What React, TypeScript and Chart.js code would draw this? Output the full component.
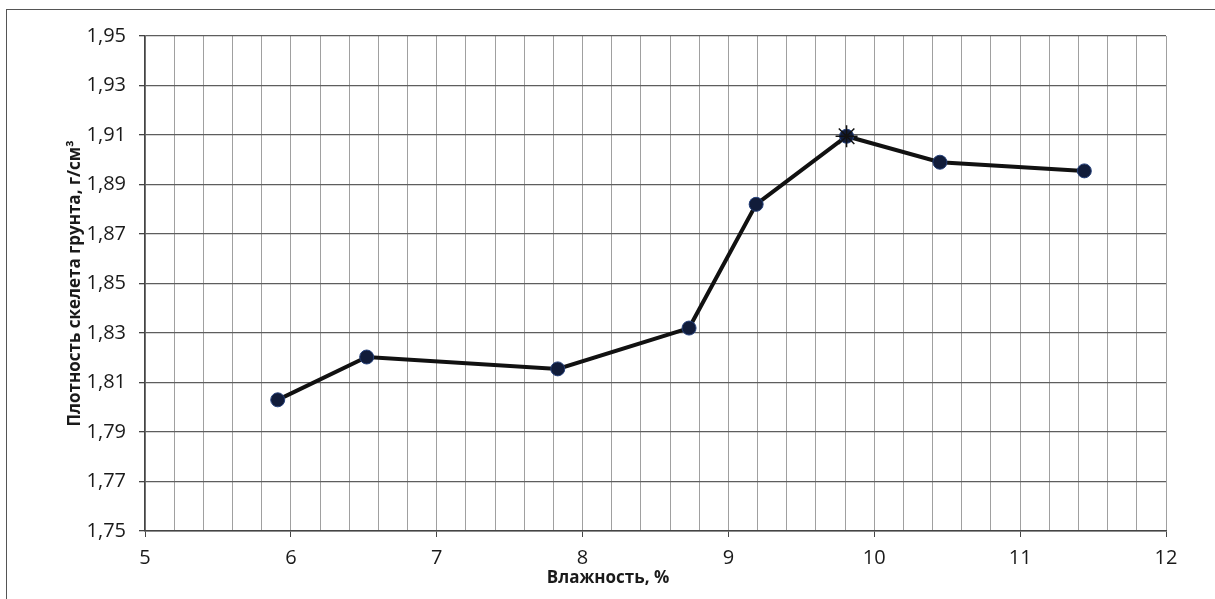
import React, { useEffect, useRef } from 'react';
import { Chart, registerables } from 'chart.js';

Chart.register(...registerables);

// Data
const moisture = [5.91, 6.52, 7.83, 8.73, 9.19, 9.81, 10.45, 11.44];
const density = [1.803, 1.8203, 1.8155, 1.832, 1.882, 1.9095, 1.899, 1.8955];
const maxIndex = 5;

// Axis settings
const xMin = 5;
const xMax = 12;
const xMinorStep = 0.2;
const yMin = 1.75;
const yMax = 1.95;
const yStep = 0.02;

const xTitle = 'Влажность, %';
const yTitle = 'Плотность скелета грунта, г/см³';

const FONT = '"Open Sans", "DejaVu Sans", sans-serif';

const isInt = (v: number) => Math.abs(v - Math.round(v)) < 1e-6;

export default function App() {
  const canvasRef = useRef<HTMLCanvasElement | null>(null);

  useEffect(() => {
    if (!canvasRef.current) return;

    const xTitlePlugin = {
      id: 'xTitlePlugin',
      afterDraw(chart: any) {
        const ctx = chart.ctx;
        ctx.save();
        ctx.font = `bold 17px ${FONT}`;
        ctx.fillStyle = '#1a1a1a';
        ctx.textAlign = 'center';
        ctx.textBaseline = 'middle';
        ctx.fillText(xTitle, 608, 578);
        ctx.restore();
      },
    };

    const chart = new Chart(canvasRef.current, {
      type: 'line',
      data: {
        datasets: [
          {
            label: 'max',
            data: [{ x: moisture[maxIndex], y: density[maxIndex] }],
            showLine: false,
            pointStyle: 'star',
            pointRadius: 11,
            pointBorderColor: '#111',
            pointBorderWidth: 1.5,
            pointBackgroundColor: '#111',
          },
          {
            label: 'density',
            data: moisture.map((x, i) => ({ x, y: density[i] })),
            borderColor: '#111111',
            borderWidth: 4,
            pointStyle: 'circle',
            pointRadius: 7,
            pointBackgroundColor: '#111c3a',
            pointBorderColor: '#25407a',
            pointBorderWidth: 1,
            tension: 0,
          },
        ],
      },
      options: {
        animation: false,
        responsive: false,
        layout: { padding: { left: 0, top: 36, right: 49, bottom: 0 } },
        plugins: {
          legend: { display: false },
          tooltip: { enabled: false },
        },
        scales: {
          x: {
            type: 'linear',
            min: xMin,
            max: xMax,
            afterFit: (scale: any) => {
              scale.height = 68;
            },
            ticks: {
              stepSize: xMinorStep,
              autoSkip: false,
              maxRotation: 0,
              padding: 9,
              color: '#1a1a1a',
              font: { family: FONT, size: 20 },
              callback: (v: any) => (isInt(Number(v)) ? String(Math.round(Number(v))) : ''),
            },
            grid: {
              color: '#a0a0a0',
              lineWidth: 1,
              tickLength: 6,
              tickColor: (ctx: any) => (ctx.tick && isInt(ctx.tick.value) ? '#444' : 'rgba(0,0,0,0)'),
            },
            border: { display: true, color: '#444', width: 1.5 },
          },
          y: {
            type: 'linear',
            min: yMin,
            max: yMax,
            afterFit: (scale: any) => {
              scale.width = 145;
            },
            ticks: {
              stepSize: yStep,
              padding: 13,
              color: '#1a1a1a',
              font: { family: FONT, size: 20 },
              callback: (v: any) => Number(v).toFixed(2).replace('.', ','),
            },
            grid: {
              color: '#5e5e5e',
              lineWidth: 1.3,
              tickLength: 6,
              tickColor: '#444',
            },
            border: { display: true, color: '#444', width: 1.5 },
            title: {
              display: true,
              text: yTitle,
              color: '#1a1a1a',
              font: { family: FONT, size: 17, weight: 'bold' },
              padding: { top: 65, bottom: 0 },
            },
          },
        },
      },
      plugins: [xTitlePlugin],
    });

    return () => chart.destroy();
  }, []);

  return (
    <div
      style={{
        position: 'fixed',
        left: 0,
        top: 0,
        width: 1215,
        height: 599,
        background: '#ffffff',
        overflow: 'hidden',
      }}
    >
      <div
        style={{
          position: 'absolute',
          left: 6,
          top: 9,
          width: 1209,
          height: 590,
          boxSizing: 'border-box',
          borderLeft: '1.5px solid #555',
          borderTop: '1.5px solid #555',
        }}
      />
      <canvas
        ref={canvasRef}
        width={1215}
        height={599}
        style={{ position: 'absolute', left: 0, top: 0, display: 'block' }}
      />
    </div>
  );
}
